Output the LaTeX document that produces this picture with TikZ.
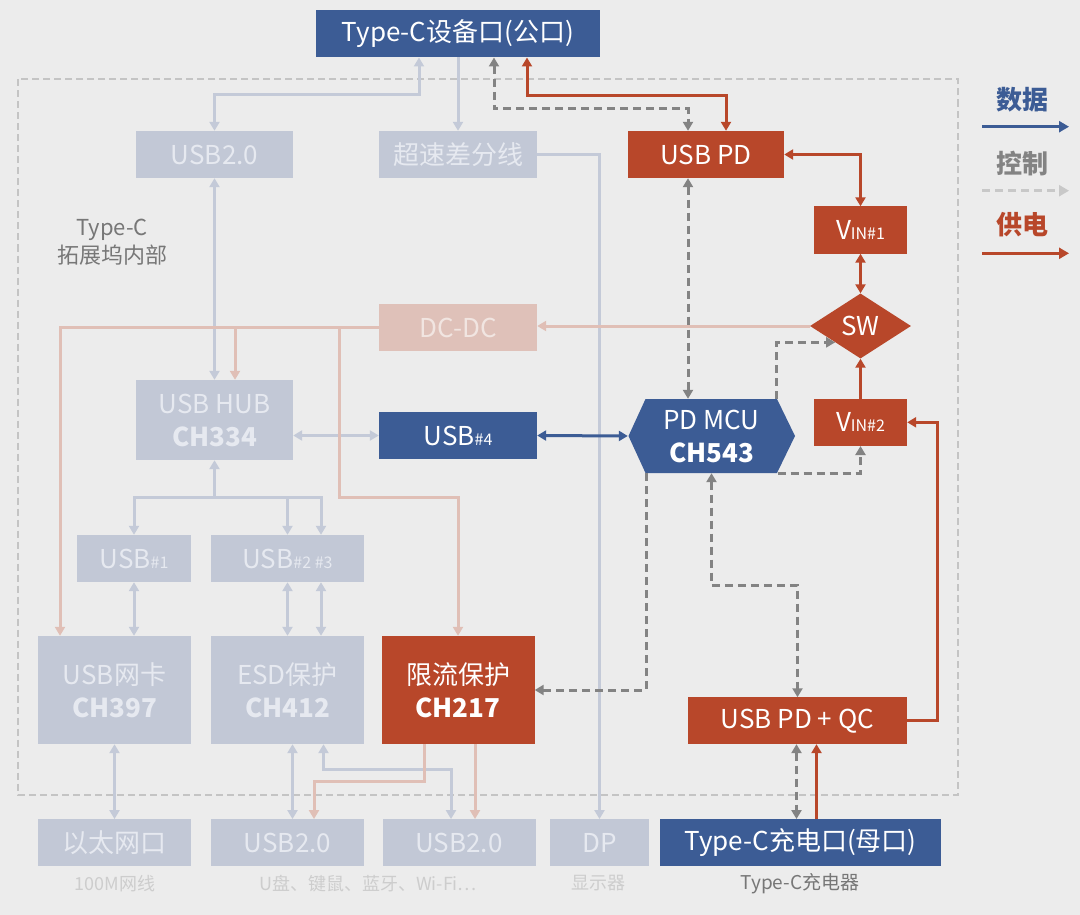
\documentclass[tikz,border=0pt]{standalone}
\usepackage{fontspec}
\setmainfont{Noto Sans CJK SC}
\usetikzlibrary{arrows.meta,shapes.geometric}
\definecolor{bgc}{HTML}{ECECEC}
\definecolor{dblue}{HTML}{3C5C95}
\definecolor{dred}{HTML}{B8472A}
\definecolor{fblue}{HTML}{C2C8D6}
\definecolor{fline}{HTML}{C4CAD8}
\definecolor{ftext}{HTML}{E6E9F0}
\definecolor{fpink}{HTML}{DFC1B9}
\definecolor{fpline}{HTML}{E0BFB6}
\definecolor{fptext}{HTML}{F1E5E1}
\definecolor{ctl}{HTML}{838383}
\definecolor{bord}{HTML}{C4C4C4}
\definecolor{lgtext}{HTML}{CDCDCD}
\definecolor{midgray}{HTML}{777777}
\definecolor{lgdash}{HTML}{C8C8C8}
\newcommand\subtxt[1]{{\fontsize{16}{16}\selectfont #1}}
\begin{document}
\begin{tikzpicture}[x=1pt,y=-1pt,
  >={Triangle[length=9pt,width=10pt]},
  bx/.style={inner sep=0pt,align=center,font=\fontsize{26}{33}\selectfont},
  dk/.style={bx,fill=dblue,text=white},
  rd/.style={bx,fill=dred,text=white},
  fb/.style={bx,fill=fblue,text=ftext},
  fp/.style={bx,fill=fpink,text=fptext},
  dl/.style={draw=fline,line width=3pt},
  dd/.style={draw=dblue,line width=3pt},
  pf/.style={draw=fpline,line width=3pt},
  pr/.style={draw=dred,line width=3pt},
  ct/.style={draw=ctl,line width=3pt,dash pattern=on 8pt off 5pt},
  small/.style={font=\fontsize{18}{20}\selectfont,text=lgtext},
  lgd/.style={font=\bfseries\fontsize{26}{26}\selectfont}
]
\fill[bgc] (0,0) rectangle (1080,915);
\useasboundingbox (0,0) rectangle (1080,915);
\draw[bord,line width=2pt,dash pattern=on 7pt off 4pt] (18,79.5) rectangle (958,794.5);

% nodes
\node[dk,minimum width=284pt,minimum height=47pt] (tcdev) at (458,33.8) {Type-C设备口(公口)};
\node[fb,minimum width=157pt,minimum height=47pt] (usb20top) at (214.5,154.5) {USB2.0};
\node[fb,minimum width=158pt,minimum height=47pt] (hsd) at (458,154.5) {超速差分线};
\node[rd,minimum width=156pt,minimum height=47pt] (usbpd) at (706,154.5) {USB PD};
\node[rd,minimum width=93pt,minimum height=47pt] (vin1) at (860.5,230) {V\subtxt{IN\#1}};
\node[rd,diamond,minimum width=101pt,minimum height=65pt] (sw) at (860.5,326) {SW};
\node[fp,minimum width=158pt,minimum height=47pt] (dcdc) at (458,327.5) {DC-DC};
\node[fb,minimum width=157pt,minimum height=80pt] (hub) at (214.5,420) {USB HUB\\\textbf{CH334}};
\node[dk,minimum width=158pt,minimum height=47pt] (usb4) at (458,435.5) {USB\subtxt{\#4}};
\fill[dblue] (628.5,436) -- (645.5,399) -- (777,399) -- (795,436) -- (777,473) -- (645.5,473) -- cycle;
\node[bx,text=white,minimum width=167pt,minimum height=74pt] (mcu) at (711.5,436) {PD MCU\\\textbf{CH543}};
\node[rd,minimum width=93pt,minimum height=47pt] (vin2) at (860.5,422.3) {V\subtxt{IN\#2}};
\node[fb,minimum width=114pt,minimum height=47pt] (usb1) at (134,558.5) {USB\subtxt{\#1}};
\node[fb,minimum width=153pt,minimum height=47pt] (usb23) at (287.5,558.5) {USB\subtxt{\#2 \#3}};
\node[fb,minimum width=153pt,minimum height=108pt] (nic) at (114.5,690) {USB网卡\\\textbf{CH397}};
\node[fb,minimum width=153pt,minimum height=108pt] (esd) at (287.5,690) {ESD保护\\\textbf{CH412}};
\node[rd,minimum width=153pt,minimum height=108pt] (lim) at (458,690) {限流保护\\\textbf{CH217}};
\node[rd,minimum width=219pt,minimum height=46.5pt] (pdqc) at (797.5,720.7) {USB PD + QC};
\node[fb,minimum width=153pt,minimum height=46.5pt] (eth) at (114.5,842.5) {以太网口};
\node[fb,minimum width=153pt,minimum height=46.5pt] (usbA) at (287.5,842.5) {USB2.0};
\node[fb,minimum width=153pt,minimum height=46.5pt] (usbB) at (459,842.5) {USB2.0};
\node[fb,minimum width=99pt,minimum height=46.5pt] (dp) at (599.5,842.5) {DP};
\node[dk,minimum width=281pt,minimum height=46.5pt] (tcchg) at (800.5,842.5) {Type-C充电口(母口)};

% captions
\node[font=\fontsize{22}{28}\selectfont,text=midgray,align=center] (inner) at (112,241.7) {Type-C\\拓展坞内部};
\node[small] (c100) at (115,883.5) {100M网线};
\node[small] (cusb) at (368,883.5) {U盘、键鼠、蓝牙、Wi-Fi…};
\node[small] (cdp) at (598.5,883.5) {显示器};
\node[font=\fontsize{19}{20}\selectfont,text=midgray] (cchg) at (800,883.5) {Type-C充电器};

% legend
\node[lgd,text=dblue] (lg1) at (1022,100) {数据};
\coordinate (lg1a) at (982,126.7); \coordinate (lg1b) at (1069,126.7);
\draw[draw=dblue,line width=3.5pt,-{Triangle[length=10pt,width=11pt]}] (lg1a) -- (lg1b);
\node[lgd,text=ctl] (lg2) at (1022,163.3) {控制};
\coordinate (lg2a) at (982,190.7); \coordinate (lg2b) at (1069,190.7);
\draw[draw=lgdash,line width=3.5pt,dash pattern=on 8pt off 5pt,-{Triangle[length=10pt,width=11pt]}] (lg2a) -- (lg2b);
\node[lgd,text=dred] (lg3) at (1022,225) {供电};
\coordinate (lg3a) at (982,253.3); \coordinate (lg3b) at (1069,253.3);
\draw[draw=dred,line width=3.5pt,-{Triangle[length=10pt,width=11pt]}] (lg3a) -- (lg3b);

% faded data
\draw[dl,<->] ([xshift=-39pt]tcdev.south) -- ++(0,37.4) -| (usb20top.north);
\draw[dl,->] (tcdev.south) -- (hsd.north);
\draw[dl,<->] (usb20top.south) -- (hub.north);
\draw[dl,->] (hsd.east) -| (dp.north);
\draw[dl,<->] (hub.east |- usb4.west) -- (usb4.west);
\coordinate (hubj) at (214.5,497.7);
\draw[dl,->] (hubj) -- (hub.south);
\draw[dl,->] (hubj) -| (usb1.north);
\draw[dl,->] (hubj) -| (usb23.north);
\draw[dl,->] (hubj) -| ([xshift=33.5pt]usb23.north);
\draw[dl,<->] (usb1.south) -- (usb1.south |- nic.north);
\draw[dl,<->] (usb23.south) -- (esd.north);
\draw[dl,<->] ([xshift=33.5pt]usb23.south) -- ([xshift=33.5pt]esd.north);
\draw[dl,<->] (nic.south) -- (eth.north);
\draw[dl,<->] ([xshift=5pt]esd.south) -- ([xshift=5pt]usbA.north);
\draw[dl,<->] ([xshift=36pt]esd.south) -- ++(0,25.3) -| ([xshift=-8pt]usbB.north);

% faded power
\draw[pf,->] (sw.west) -- (sw.west -| dcdc.east);
\draw[pf,->] (dcdc.west) -| ([xshift=-54.5pt]nic.north);
\coordinate (p1) at (235,327.5);
\draw[pf,->] (p1) -- ([xshift=20.5pt]hub.north);
\coordinate (p2) at (339,327.5);
\draw[pf,->] (p2) -- ++(0,170.2) -| (lim.north);
\draw[pf,->] ([xshift=-33.5pt]lim.south) -- ++(0,37.7) -| ([xshift=26.5pt]usbA.north);
\draw[pf,->] ([xshift=17pt]lim.south) -- ([xshift=16pt]usbB.north);

% data
\draw[dd,<->] (usb4.east) -- (mcu.west);

% power
\draw[pr,<->] ([xshift=69pt]tcdev.south) -- ++(0,38.4) -| ([xshift=20pt]usbpd.north);
\draw[pr,<->] (usbpd.east) -| (vin1.north);
\draw[pr,<->] (vin1.south) -- (sw.north);
\draw[pr,->] (vin2.north) -- (sw.south);
\draw[pr,->] (pdqc.east) -- ++(30,0) |- (vin2.east);
\draw[pr,->] ([xshift=16pt]tcchg.north) -- ([xshift=19pt]pdqc.south);

% control
\draw[ct,<->] ([xshift=36pt]tcdev.south) -- ++(0,51) -| ([xshift=-18pt]usbpd.north);
\draw[ct,<->] ([xshift=-18pt]usbpd.south) -- ([xshift=-23.5pt]mcu.north);
\draw[ct,->] ([xshift=65pt]mcu.north) |- (sw.south west);
\draw[ct,->] ([xshift=66pt]mcu.south) -| (vin2.south);
\draw[ct,<->] (mcu.south) -- ++(0,112) -| (pdqc.north);
\draw[ct,->] ([xshift=-65.5pt]mcu.south) |- (lim.east);
\draw[ct,<->] ([xshift=-1pt]pdqc.south) -- ([xshift=-4pt]tcchg.north);
\end{tikzpicture}
\end{document}
